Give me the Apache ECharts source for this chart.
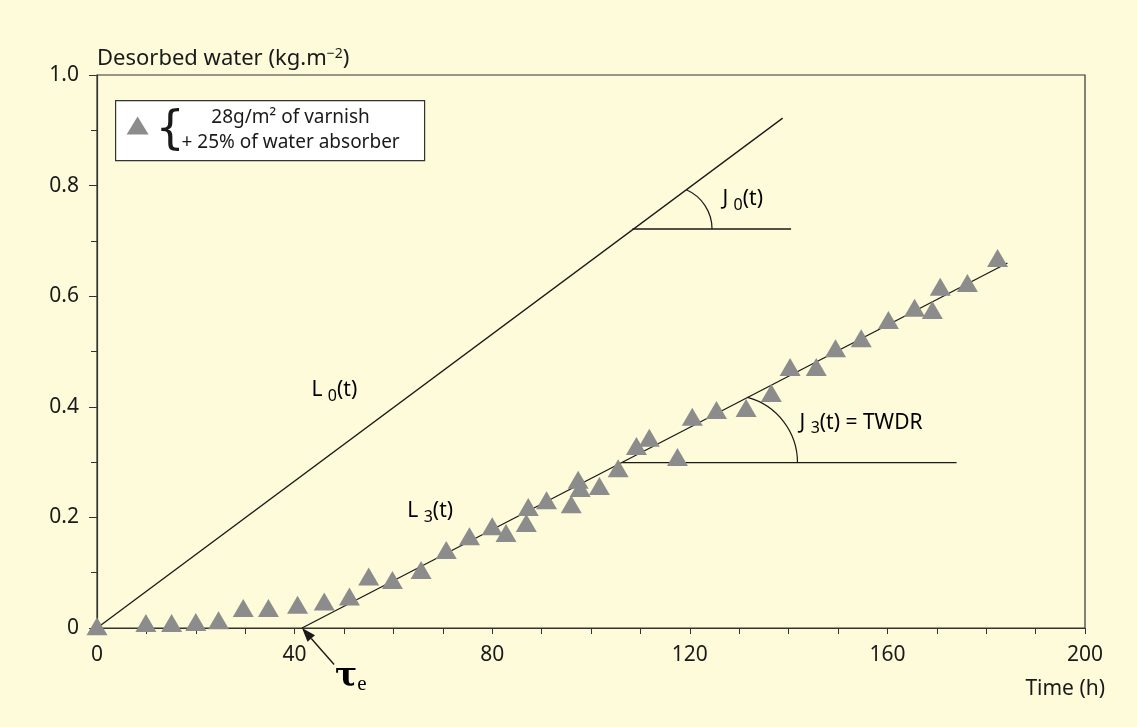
<!DOCTYPE html>
<html>
<head>
<meta charset="utf-8">
<script src="https://cdn.jsdelivr.net/npm/echarts@6/dist/echarts.min.js"></script>
<style>
html, body { margin: 0; padding: 0; background: #fdfbd9; }
#chart { width: 1137px; height: 727px; }
</style>
</head>
<body>
<div id="chart"></div>
<script>
// measured points (time in h, desorbed water in kg/m2)
var timeH = [0, 9.9, 15.1, 20.0, 24.6, 29.6, 34.7, 40.6, 46.0, 51.1, 55.0, 59.8, 65.6, 70.7,
  75.4, 80.0, 82.8, 86.9, 87.3, 91.0, 96.0, 97.4, 97.8, 101.7, 105.5, 109.2, 111.8, 117.5,
  120.5, 125.4, 131.4, 136.5, 140.3, 145.6, 149.5, 154.7, 160.2, 165.5, 169.1, 170.7, 176.2, 182.3];
var desorbed = [0.003, 0.009, 0.009, 0.011, 0.014, 0.036, 0.036, 0.042, 0.048, 0.057, 0.093, 0.087, 0.105, 0.141,
  0.166, 0.184, 0.172, 0.190, 0.219, 0.231, 0.224, 0.268, 0.253, 0.257, 0.289, 0.329, 0.344, 0.309,
  0.382, 0.394, 0.398, 0.425, 0.472, 0.472, 0.506, 0.524, 0.557, 0.579, 0.575, 0.617, 0.624, 0.669];

// fitted lines and angle bases
var lineL0 = [[0, 0], [138.8, 0.922]];
var lineL3 = [[41.5, 0], [184.3, 0.66]];
var baseJ0 = [[108.4, 0.7215], [140.5, 0.7215]];
var baseJ3 = [[106.3, 0.299], [174, 0.299]];

// angle arcs: [point on base, point on slope line]
var arcJ0 = [[124.5, 0.7215], [119.3, 0.7925]];
var arcJ3 = [[141.8, 0.299], [131.7, 0.417]];

// tau_e arrow: [tail, head]
var arrowTau = [[48.0, -0.066], [41.5, 0]];

var seriesName = '28g/m² of varnish + 25% of water absorber';
var yTitle = 'Desorbed water (kg.m';
var xTitle = 'Time (h)';

var FONT = '"Noto Sans", sans-serif';
var INK = '#1a1a1a';

var chart = echarts.init(document.getElementById('chart'));

function pairs(xs, ys) {
  var out = [];
  for (var i = 0; i < xs.length; i++) out.push([xs[i], ys[i]]);
  return out;
}

function lineSeries(data) {
  return {
    type: 'line', data: data, showSymbol: false, silent: true, z: 3,
    lineStyle: { color: INK, width: 1.3 }
  };
}

function subLabel(main, sub, rest) {
  return '{n|' + main + ' }{s|' + sub + '}{n|' + rest + '}';
}
var subRich = {
  n: { fontFamily: FONT, fontSize: 21, color: INK, lineHeight: 22 },
  s: { fontFamily: FONT, fontSize: 16, color: INK, lineHeight: 22, padding: [12, 0, 0, 0] }
};

function arcShape(api, pts) {
  var h = api.coord(pts[0]), l = api.coord(pts[1]);
  var dx = h[0] - l[0], dy = h[1] - l[1];
  var r = (dx * dx + dy * dy) / (2 * dx);
  var cx = h[0] - r, cy = h[1];
  return {
    type: 'arc',
    shape: { cx: cx, cy: cy, r: r, startAngle: Math.atan2(l[1] - cy, l[0] - cx), endAngle: 0, clockwise: true },
    style: { stroke: INK, fill: null, lineWidth: 1.2 }
  };
}

function textAt(api, pos, text) {
  var p = api.coord(pos);
  return {
    type: 'text', x: p[0], y: p[1],
    style: { text: text, rich: subRich, verticalAlign: 'middle', align: 'left' }
  };
}

function renderNotes(params, api) {
  var kids = [];
  kids.push(arcShape(api, arcJ0));
  kids.push(arcShape(api, arcJ3));
  kids.push(textAt(api, [43.4, 0.43], subLabel('L', '0', '(t)')));
  kids.push(textAt(api, [62.8, 0.211], subLabel('L', '3', '(t)')));
  kids.push(textAt(api, [126.6, 0.775], subLabel('J', '0', '(t)')));
  kids.push(textAt(api, [142.2, 0.371], subLabel('J', '3', '(t) = TWDR')));

  // arrow to tau_e
  var t = api.coord(arrowTau[0]), h = api.coord(arrowTau[1]);
  var ang = Math.atan2(h[1] - t[1], h[0] - t[0]);
  var hl = 14, hw = 5;
  var bx = h[0] - hl * Math.cos(ang), by = h[1] - hl * Math.sin(ang);
  kids.push({ type: 'line', shape: { x1: t[0], y1: t[1], x2: bx, y2: by }, style: { stroke: INK, lineWidth: 1.4 } });
  kids.push({
    type: 'polygon',
    shape: { points: [[h[0], h[1]],
      [bx + hw * Math.sin(ang), by - hw * Math.cos(ang)],
      [bx - hw * Math.sin(ang), by + hw * Math.cos(ang)]] },
    style: { fill: INK }
  });
  var tp = api.coord([48.2, -0.09]);
  kids.push({
    type: 'text', x: tp[0], y: tp[1],
    style: {
      text: '{t|τ}{e|e}', verticalAlign: 'middle', align: 'left',
      rich: {
        t: { fontFamily: '"DejaVu Serif", serif', fontSize: 33, fontWeight: 'bold', color: INK, lineHeight: 34 },
        e: { fontFamily: '"Liberation Serif", serif', fontSize: 21, color: INK, lineHeight: 34, padding: [14, 0, 0, 0] }
      }
    }
  });
  return { type: 'group', children: kids };
}

var option = {
  backgroundColor: '#fdfbd9',
  animation: false,
  grid: { left: 97, right: 52, top: 75, bottom: 99, show: true, borderColor: '#333', borderWidth: 1.2 },
  xAxis: {
    type: 'value', min: 0, max: 200, interval: 40,
    axisLine: { lineStyle: { color: '#333', width: 1.2 } },
    axisTick: { length: 6, lineStyle: { color: '#333' } },
    minorTick: { show: true, splitNumber: 4, length: 6, lineStyle: { color: '#333' } },
    splitLine: { show: false },
    axisLabel: { margin: 17, fontFamily: FONT, fontSize: 21, color: INK }
  },
  yAxis: {
    type: 'value', min: 0, max: 1, interval: 0.2,
    name: yTitle + '{sup|−2}{m|)}',
    nameLocation: 'end', nameGap: 4,
    nameTextStyle: {
      align: 'left', verticalAlign: 'bottom', fontFamily: FONT, fontSize: 22, color: INK,
      rich: {
        sup: { fontFamily: FONT, fontSize: 14, color: INK, padding: [0, 0, 10, 0] },
        m: { fontFamily: FONT, fontSize: 22, color: INK }
      }
    },
    axisLine: { lineStyle: { color: '#333', width: 1.2 } },
    axisTick: { length: 8, lineStyle: { color: '#333' } },
    minorTick: { show: true, splitNumber: 2, length: 6, lineStyle: { color: '#333' } },
    splitLine: { show: false },
    axisLabel: {
      margin: 18, fontFamily: FONT, fontSize: 21, color: INK,
      formatter: function (v) { return v === 0 ? '0' : v.toFixed(1); }
    }
  },
  graphic: [
    {
      type: 'text', right: 32, top: 679,
      style: { text: xTitle, font: '21px ' + FONT, fill: INK }
    },
    {
      type: 'group', left: 115, top: 100,
      children: [
        { type: 'rect', shape: { x: 0, y: 0, width: 309, height: 60 }, style: { fill: '#fff', stroke: '#333', lineWidth: 1.2 } },
        { type: 'polygon', shape: { points: [[22, 16], [33, 34], [11, 34]] }, style: { fill: '#8c8c8c' } },
        { type: 'text', x: 40, y: 30, style: { text: '{', font: '46px "DejaVu Sans", sans-serif', fill: INK, verticalAlign: 'middle' } },
        { type: 'text', x: 175, y: 17, style: { text: '28g/m² of varnish', font: '19px ' + FONT, fill: INK, align: 'center', verticalAlign: 'middle' } },
        { type: 'text', x: 175, y: 42, style: { text: '+ 25% of water absorber', font: '19px ' + FONT, fill: INK, align: 'center', verticalAlign: 'middle' } }
      ]
    }
  ],
  series: [
    lineSeries(lineL0),
    lineSeries(lineL3),
    lineSeries(baseJ0),
    lineSeries(baseJ3),
    {
      name: seriesName, type: 'scatter', data: pairs(timeH, desorbed), z: 4,
      symbol: 'triangle', symbolSize: [21, 18],
      itemStyle: { color: '#8c8c8c', opacity: 1 }
    },
    {
      type: 'custom', data: [[0, 0]], silent: true, clip: false, z: 5,
      renderItem: renderNotes
    }
  ]
};

chart.setOption(option);
</script>
</body>
</html>
